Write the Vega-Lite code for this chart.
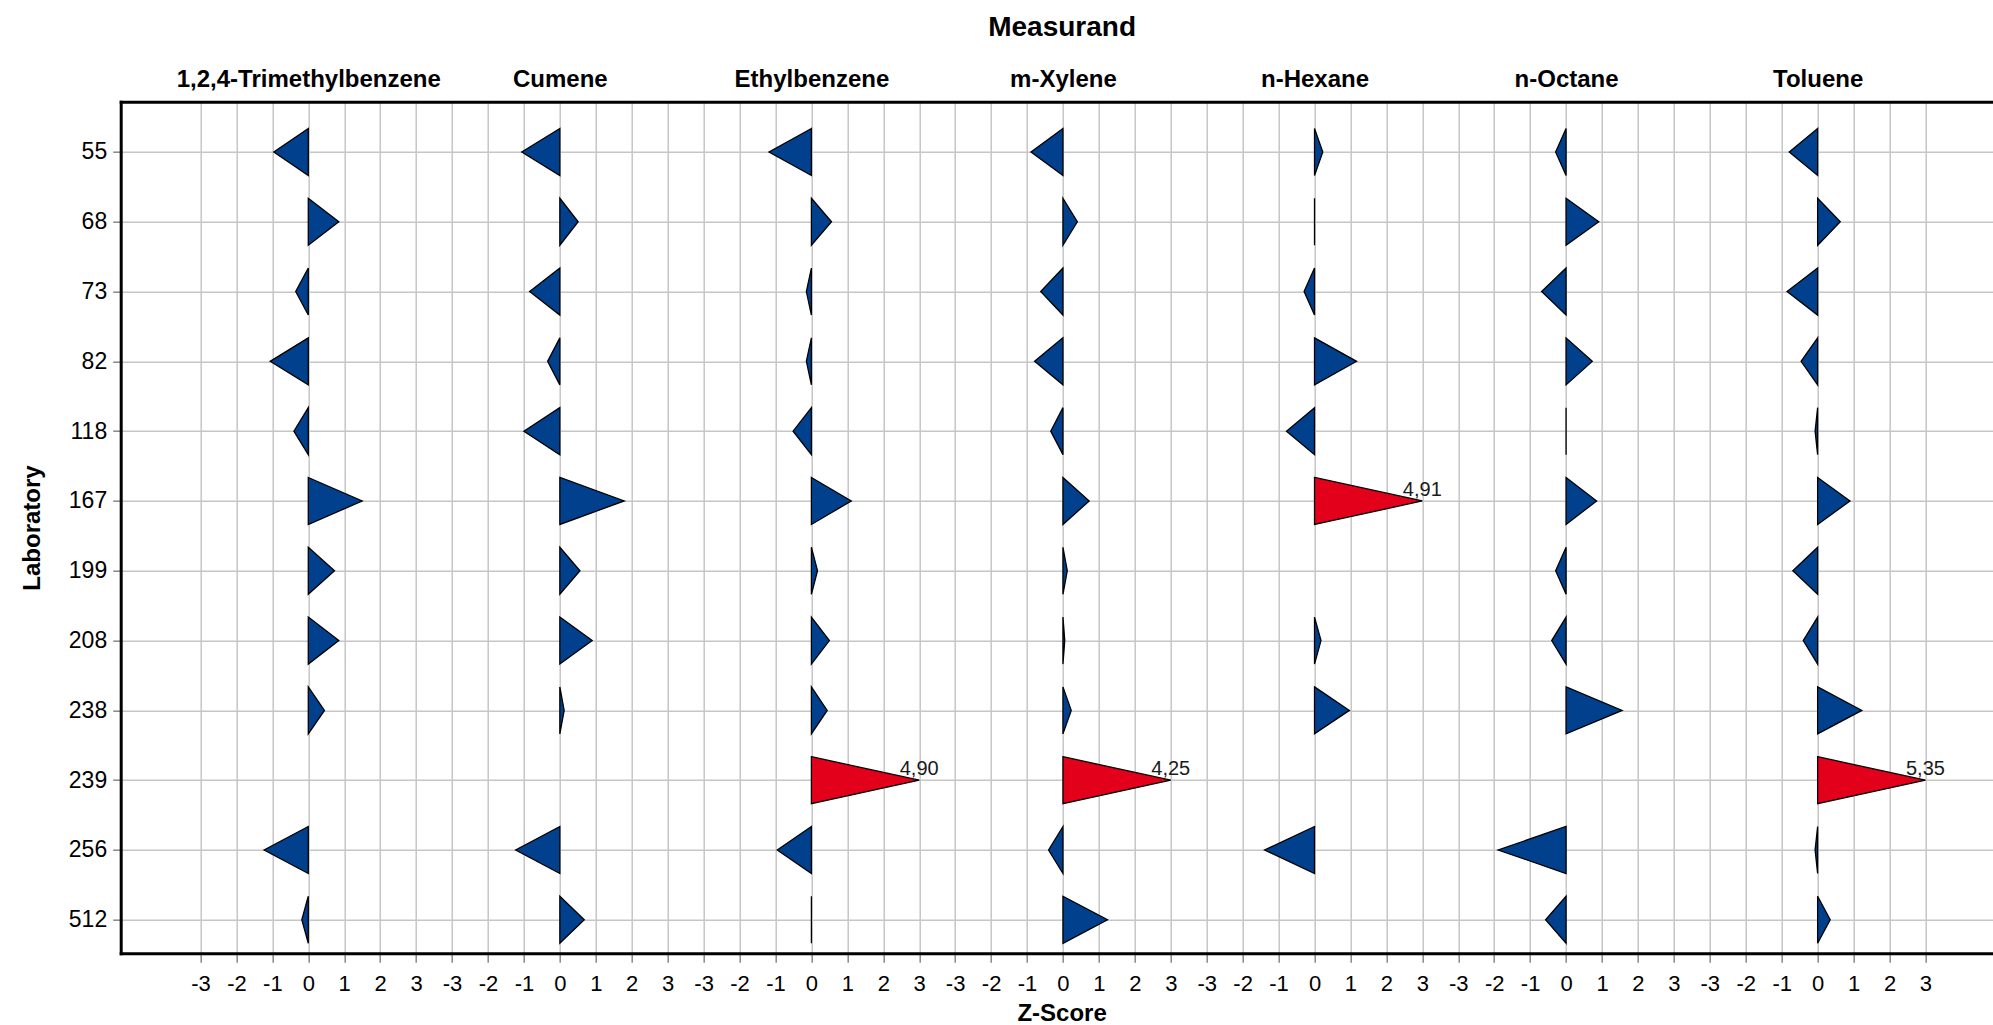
{
  "$schema": "https://vega.github.io/schema/vega-lite/v6.json",
  "width": 1872.3,
  "height": 851.6,
  "autosize": {"type": "none"},
  "padding": {"left": 120.7, "top": 101.7, "right": 0, "bottom": 71.7},
  "background": "white",
  "config": {
    "view": {"stroke": null},
    "font": "Liberation Sans"
  },
  "data": {
    "values": [
      {"measurand": "1,2,4-Trimethylbenzene", "laboratory": 55, "z": -0.96},
      {"measurand": "1,2,4-Trimethylbenzene", "laboratory": 68, "z": 0.85},
      {"measurand": "1,2,4-Trimethylbenzene", "laboratory": 73, "z": -0.35},
      {"measurand": "1,2,4-Trimethylbenzene", "laboratory": 82, "z": -1.06},
      {"measurand": "1,2,4-Trimethylbenzene", "laboratory": 118, "z": -0.40},
      {"measurand": "1,2,4-Trimethylbenzene", "laboratory": 167, "z": 1.50},
      {"measurand": "1,2,4-Trimethylbenzene", "laboratory": 199, "z": 0.73},
      {"measurand": "1,2,4-Trimethylbenzene", "laboratory": 208, "z": 0.85},
      {"measurand": "1,2,4-Trimethylbenzene", "laboratory": 238, "z": 0.45},
      {"measurand": "1,2,4-Trimethylbenzene", "laboratory": 256, "z": -1.23},
      {"measurand": "1,2,4-Trimethylbenzene", "laboratory": 512, "z": -0.18},
      {"measurand": "Cumene", "laboratory": 55, "z": -1.06},
      {"measurand": "Cumene", "laboratory": 68, "z": 0.51},
      {"measurand": "Cumene", "laboratory": 73, "z": -0.84},
      {"measurand": "Cumene", "laboratory": 82, "z": -0.34},
      {"measurand": "Cumene", "laboratory": 118, "z": -1.00},
      {"measurand": "Cumene", "laboratory": 167, "z": 1.79},
      {"measurand": "Cumene", "laboratory": 199, "z": 0.56},
      {"measurand": "Cumene", "laboratory": 208, "z": 0.90},
      {"measurand": "Cumene", "laboratory": 238, "z": 0.12},
      {"measurand": "Cumene", "laboratory": 256, "z": -1.23},
      {"measurand": "Cumene", "laboratory": 512, "z": 0.68},
      {"measurand": "Ethylbenzene", "laboratory": 55, "z": -1.18},
      {"measurand": "Ethylbenzene", "laboratory": 68, "z": 0.56},
      {"measurand": "Ethylbenzene", "laboratory": 73, "z": -0.14},
      {"measurand": "Ethylbenzene", "laboratory": 82, "z": -0.14},
      {"measurand": "Ethylbenzene", "laboratory": 118, "z": -0.51},
      {"measurand": "Ethylbenzene", "laboratory": 167, "z": 1.11},
      {"measurand": "Ethylbenzene", "laboratory": 199, "z": 0.17},
      {"measurand": "Ethylbenzene", "laboratory": 208, "z": 0.50},
      {"measurand": "Ethylbenzene", "laboratory": 238, "z": 0.44},
      {"measurand": "Ethylbenzene", "laboratory": 239, "z": 4.90},
      {"measurand": "Ethylbenzene", "laboratory": 256, "z": -0.95},
      {"measurand": "Ethylbenzene", "laboratory": 512, "z": 0.00},
      {"measurand": "m-Xylene", "laboratory": 55, "z": -0.89},
      {"measurand": "m-Xylene", "laboratory": 68, "z": 0.40},
      {"measurand": "m-Xylene", "laboratory": 73, "z": -0.62},
      {"measurand": "m-Xylene", "laboratory": 82, "z": -0.79},
      {"measurand": "m-Xylene", "laboratory": 118, "z": -0.34},
      {"measurand": "m-Xylene", "laboratory": 167, "z": 0.73},
      {"measurand": "m-Xylene", "laboratory": 199, "z": 0.12},
      {"measurand": "m-Xylene", "laboratory": 208, "z": 0.05},
      {"measurand": "m-Xylene", "laboratory": 238, "z": 0.23},
      {"measurand": "m-Xylene", "laboratory": 239, "z": 4.25},
      {"measurand": "m-Xylene", "laboratory": 256, "z": -0.40},
      {"measurand": "m-Xylene", "laboratory": 512, "z": 1.24},
      {"measurand": "n-Hexane", "laboratory": 55, "z": 0.23},
      {"measurand": "n-Hexane", "laboratory": 68, "z": 0.00},
      {"measurand": "n-Hexane", "laboratory": 73, "z": -0.29},
      {"measurand": "n-Hexane", "laboratory": 82, "z": 1.17},
      {"measurand": "n-Hexane", "laboratory": 118, "z": -0.78},
      {"measurand": "n-Hexane", "laboratory": 167, "z": 4.91},
      {"measurand": "n-Hexane", "laboratory": 208, "z": 0.18},
      {"measurand": "n-Hexane", "laboratory": 238, "z": 0.97},
      {"measurand": "n-Hexane", "laboratory": 256, "z": -1.39},
      {"measurand": "n-Octane", "laboratory": 55, "z": -0.29},
      {"measurand": "n-Octane", "laboratory": 68, "z": 0.91},
      {"measurand": "n-Octane", "laboratory": 73, "z": -0.68},
      {"measurand": "n-Octane", "laboratory": 82, "z": 0.73},
      {"measurand": "n-Octane", "laboratory": 118, "z": 0.00},
      {"measurand": "n-Octane", "laboratory": 167, "z": 0.85},
      {"measurand": "n-Octane", "laboratory": 199, "z": -0.29},
      {"measurand": "n-Octane", "laboratory": 208, "z": -0.40},
      {"measurand": "n-Octane", "laboratory": 238, "z": 1.56},
      {"measurand": "n-Octane", "laboratory": 256, "z": -1.89},
      {"measurand": "n-Octane", "laboratory": 512, "z": -0.57},
      {"measurand": "Toluene", "laboratory": 55, "z": -0.79},
      {"measurand": "Toluene", "laboratory": 68, "z": 0.63},
      {"measurand": "Toluene", "laboratory": 73, "z": -0.85},
      {"measurand": "Toluene", "laboratory": 82, "z": -0.46},
      {"measurand": "Toluene", "laboratory": 118, "z": -0.07},
      {"measurand": "Toluene", "laboratory": 167, "z": 0.90},
      {"measurand": "Toluene", "laboratory": 199, "z": -0.69},
      {"measurand": "Toluene", "laboratory": 208, "z": -0.40},
      {"measurand": "Toluene", "laboratory": 238, "z": 1.23},
      {"measurand": "Toluene", "laboratory": 239, "z": 5.35},
      {"measurand": "Toluene", "laboratory": 256, "z": -0.07},
      {"measurand": "Toluene", "laboratory": 512, "z": 0.35}
    ]
  },
  "transform": [
    {"calculate": "indexof(['1,2,4-Trimethylbenzene','Cumene','Ethylbenzene','m-Xylene','n-Hexane','n-Octane','Toluene'], datum.measurand) * 7", "as": "panel"},
    {"calculate": "clamp(datum.z, -3, 3)", "as": "zc"},
    {"calculate": "datum.panel + datum.zc", "as": "tip"},
    {"calculate": "'M0,-0.654L' + (round(datum.zc * 1000) / 1000) + ',0L0,0.654Z'", "as": "triangle"},
    {"calculate": "replace(format(datum.z, '.2f'), '.', ',')", "as": "label"}
  ],
  "encoding": {
    "y": {
      "field": "laboratory",
      "type": "ordinal",
      "scale": {"type": "point", "domain": [55, 68, 73, 82, 118, 167, 199, 208, 238, 239, 256, 512], "padding": 0.6, "align": 0.6},
      "axis": {
        "title": "Laboratory",
        "titleFontSize": 24,
        "titleFontWeight": "bold",
        "titleColor": "#000",
        "titlePadding": 24,
        "labelFontSize": 23,
        "labelColor": "#000",
        "labelPadding": 6,
        "tickSize": 8,
        "tickColor": "#888",
        "tickWidth": 1.5,
        "domainColor": "#000",
        "domainWidth": 3,
        "domainCap": "square",
        "grid": true,
        "gridColor": "#c6c6c6",
        "gridWidth": 1.5
      }
    }
  },
  "layer": [
    {
      "mark": {"type": "point", "filled": true, "opacity": 1, "size": 5166, "stroke": "#000", "strokeWidth": 1.3},
      "encoding": {
        "x": {
          "field": "panel",
          "type": "quantitative",
          "scale": {"domain": [-5.22, 46.88], "nice": false, "zero": false},
          "axis": {
            "orient": "bottom",
            "values": [-3, -2, -1, 0, 1, 2, 3, 4, 5, 6, 7, 8, 9, 10, 11, 12, 13, 14, 15, 16, 17, 18, 19, 20, 21, 22, 23, 24, 25, 26, 27, 28, 29, 30, 31, 32, 33, 34, 35, 36, 37, 38, 39, 40, 41, 42, 43, 44, 45],
            "labelExpr": "'' + ((datum.value + 3) % 7 - 3)",
            "grid": true,
            "gridColor": "#c6c6c6",
            "gridWidth": 1.5,
            "domainColor": "#000",
            "domainWidth": 3,
            "domainCap": "square",
            "tickColor": "#888",
            "tickWidth": 1.5,
            "tickSize": 9,
            "labelFontSize": 22,
            "labelColor": "#000",
            "labelPadding": 11,
            "labelOverlap": false,
            "labelFlush": false,
            "title": "Z-Score",
            "titleFontSize": 24,
            "titleFontWeight": "bold",
            "titleColor": "#000",
            "titlePadding": 7,
            "titleX": 940.9
          }
        },
        "shape": {"field": "triangle", "type": "nominal", "scale": null},
        "fill": {"condition": {"test": "datum.z > 3", "value": "#e2001a"}, "value": "#00408c"}
      }
    },
    {
      "transform": [{"filter": "datum.z > 3"}],
      "mark": {"type": "text", "fontSize": 20, "align": "center", "baseline": "alphabetic", "dy": -5, "color": "#1a1a1a"},
      "encoding": {
        "x": {
          "field": "tip",
          "type": "quantitative",
          "axis": {
            "orient": "top",
            "values": [0, 7, 14, 21, 28, 35, 42],
            "labelExpr": "['1,2,4-Trimethylbenzene','Cumene','Ethylbenzene','m-Xylene','n-Hexane','n-Octane','Toluene'][round(datum.value / 7)]",
            "grid": false,
            "ticks": false,
            "tickSize": 0,
            "domainColor": "#000",
            "domainWidth": 3,
            "domainCap": "square",
            "labelFontSize": 24,
            "labelFontWeight": "bold",
            "labelColor": "#000",
            "labelPadding": 10,
            "labelLimit": 0,
            "labelOverlap": false,
            "labelFlush": false,
            "title": "Measurand",
            "titleFontSize": 28,
            "titleFontWeight": "bold",
            "titleColor": "#000",
            "titlePadding": 26,
            "titleX": 940.9
          }
        },
        "text": {"field": "label"}
      }
    }
  ],
  "resolve": {"axis": {"x": "independent"}}
}
